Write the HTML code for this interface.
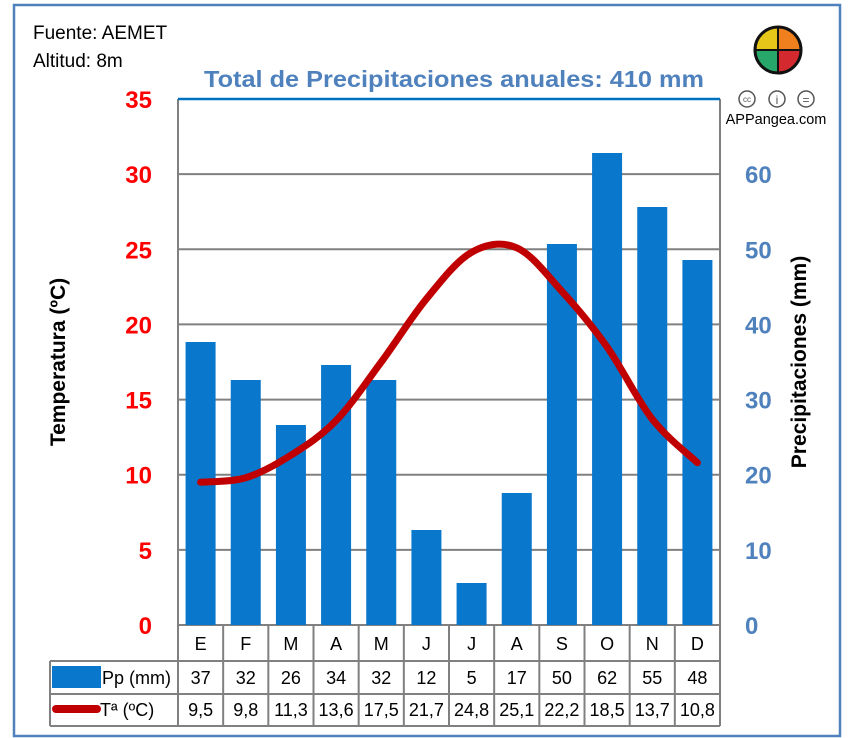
<!DOCTYPE html>
<html><head><meta charset="utf-8"><style>
body{margin:0;background:#fff;}
svg{display:block;font-family:"Liberation Sans",sans-serif;}
</style></head><body>
<svg id="s" width="852" height="738" viewBox="0 0 852 738">
<rect x="14" y="5" width="826" height="731" fill="#fff" stroke="#4f81bd" stroke-width="2.5"/>
<text x="33" y="39" font-size="19" fill="#000">Fuente: AEMET</text>
<text x="33" y="67" font-size="19" fill="#000">Altitud: 8m</text>
<text x="454" y="87" font-size="23" font-weight="bold" fill="#4f81bd" text-anchor="middle" textLength="500" lengthAdjust="spacingAndGlyphs">Total de Precipitaciones anuales: 410 mm</text>
<g id="grid" stroke="#808080" stroke-width="2"></g>
<g id="bars" fill="#0877cc"></g>
<path id="temp" fill="none" stroke="#c00000" stroke-width="7" stroke-linecap="round"/>
<line x1="178" y1="99" x2="720" y2="99" stroke="#0070c0" stroke-width="2.5"/>
<g id="lab" font-size="24" font-weight="bold"></g>
<text transform="translate(65,362) rotate(-90)" font-size="21" font-weight="bold" text-anchor="middle">Temperatura (ºC)</text>
<text transform="translate(806,362) rotate(-90)" font-size="21" font-weight="bold" text-anchor="middle">Precipitaciones (mm)</text>
<g id="tbl" font-size="18" text-anchor="middle"></g>
<rect x="52" y="666" width="49" height="22" fill="#0877cc"/>
<line x1="56" y1="709" x2="97" y2="709" stroke="#c00000" stroke-width="8" stroke-linecap="round"/>
<text x="102" y="684" font-size="18">Pp (mm)</text>
<text x="100" y="716" font-size="18">Tª (ºC)</text>
<g transform="translate(778,50)">
<path d="M0,0 L0,-23 A23,23 0 0,0 -23,0Z" fill="#e6c619"/>
<path d="M0,0 L23,0 A23,23 0 0,0 0,-23Z" fill="#f0801e"/>
<path d="M0,0 L-23,0 A23,23 0 0,0 0,23Z" fill="#27a86a"/>
<path d="M0,0 L0,23 A23,23 0 0,0 23,0Z" fill="#d42a2f"/>
<circle r="23" fill="none" stroke="#111" stroke-width="3"/>
<path d="M0,-23V23M-23,0H23" stroke="#111" stroke-width="2"/>
</g>
<g fill="none" stroke="#555" stroke-width="1.5">
<circle cx="747" cy="99" r="8"/><circle cx="777" cy="99" r="8"/><circle cx="806" cy="99" r="8"/>
</g>
<text x="747" y="102" font-size="8" text-anchor="middle" fill="#555">cc</text>
<text x="777" y="104" font-size="12" text-anchor="middle" fill="#555">i</text>
<text x="806" y="104" font-size="12" text-anchor="middle" fill="#555">=</text>
<text x="776" y="124" font-size="14.5" text-anchor="middle" fill="#000">APPangea.com</text>
</svg>
<script>
var NS="http://www.w3.org/2000/svg";
function el(p,t,a,txt){var e=document.createElementNS(NS,t);for(var k in a)e.setAttribute(k,a[k]);if(txt!==undefined)e.textContent=txt;document.getElementById(p).appendChild(e);return e;}
var x0=178,x1=720,y0=625,w=(x1-x0)/12,u=526/35;
for(var t=5;t<35;t+=5){el("grid","line",{x1:x0,x2:x1,y1:y0-t*u,y2:y0-t*u});}
el("grid","line",{x1:x0,x2:x0,y1:99,y2:726});
el("grid","line",{x1:x1,x2:x1,y1:99,y2:726});
el("grid","line",{x1:x0,x2:x1,y1:625,y2:625});
el("grid","line",{x1:50,x2:x1,y1:661,y2:661});
el("grid","line",{x1:50,x2:x1,y1:694,y2:694});
el("grid","line",{x1:50,x2:x1,y1:726,y2:726});
el("grid","line",{x1:50,x2:50,y1:661,y2:726});
for(var i=1;i<12;i++)el("grid","line",{x1:x0+i*w,x2:x0+i*w,y1:625,y2:726});
var tops=[342,380,425,365,380,530,583,493,244,153,207,260];
var pp=[37,32,26,34,32,12,5,17,50,62,55,48];
var T=[9.5,9.8,11.3,13.6,17.5,21.7,24.8,25.1,22.2,18.5,13.7,10.8];
var M=["E","F","M","A","M","J","J","A","S","O","N","D"];
var P=[];
for(var i=0;i<12;i++){var cx=x0+w*(i+0.5);
el("bars","rect",{x:cx-15,y:tops[i],width:30,height:625-tops[i]});
P.push([cx,y0-T[i]*u]);
el("tbl","text",{x:cx,y:650},M[i]);
el("tbl","text",{x:cx,y:684},pp[i]);
el("tbl","text",{x:cx,y:716},String(T[i]).replace(".",","));}
var d="M"+P[0][0]+","+P[0][1];
for(var i=0;i<11;i++){var p0=P[Math.max(0,i-1)],p1=P[i],p2=P[i+1],p3=P[Math.min(11,i+2)];
d+=" C"+(p1[0]+(p2[0]-p0[0])/6)+","+(p1[1]+(p2[1]-p0[1])/6)+" "+(p2[0]-(p3[0]-p1[0])/6)+","+(p2[1]-(p3[1]-p1[1])/6)+" "+p2[0]+","+p2[1];}
document.getElementById("temp").setAttribute("d",d);
for(var t=0;t<=35;t+=5){el("lab","text",{x:152,y:y0-t*u+9,"text-anchor":"end",fill:"#ff0000"},t);}
for(var v=0;v<=60;v+=10){el("lab","text",{x:745,y:y0-v*u/2+9,"text-anchor":"start",fill:"#4f81bd"},v);}
</script>
</body></html>
